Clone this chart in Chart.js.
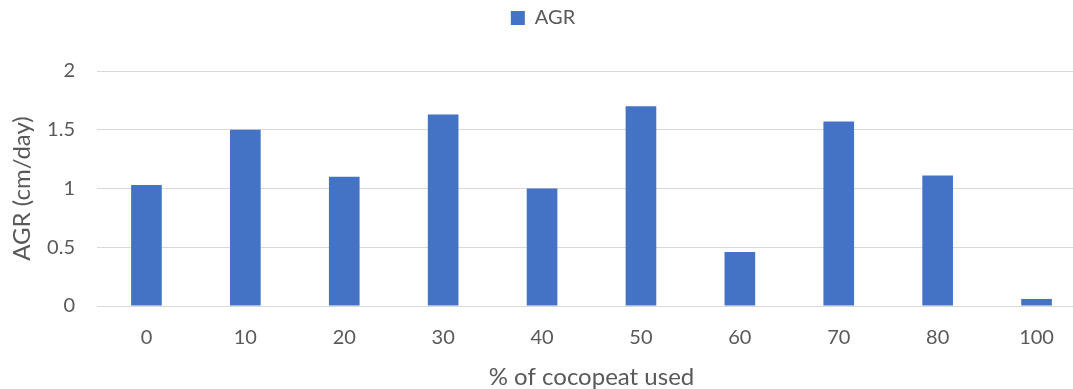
<!DOCTYPE html>
<html>
<head>
<meta charset="utf-8">
<script src="https://cdn.jsdelivr.net/npm/chart.js@4"></script>
<style>
  html, body { margin: 0; padding: 0; background: #ffffff; overflow: hidden; width: 1073px; height: 389px; }
  canvas { display: block; }
</style>
</head>
<body>
<canvas id="c" width="1090" height="389"></canvas>
<script>
const categories = ["0", "10", "20", "30", "40", "50", "60", "70", "80", "100"];
const agrValues = [1.03, 1.50, 1.10, 1.63, 1.00, 1.70, 0.46, 1.57, 1.11, 0.06];
const yTicks = [0, 0.5, 1, 1.5, 2];
const seriesName = "AGR";
const xTitle = "% of cocopeat used";
const yTitle = "AGR (cm/day)";

const textColor = "#595959";
const fontFamily = "Lato, 'Open Sans', 'Liberation Sans', sans-serif";

new Chart(document.getElementById("c"), {
  type: "bar",
  data: {
    labels: categories,
    datasets: [{
      label: seriesName,
      data: agrValues,
      backgroundColor: "#4472C4",
      borderWidth: 0,
      barPercentage: 0.31,
      categoryPercentage: 1.0
    }]
  },
  options: {
    responsive: false,
    animation: false,
    devicePixelRatio: 1,
    layout: { padding: { top: 0, left: 0, right: 4, bottom: 0 } },
    plugins: {
      legend: {
        display: true,
        position: "top",
        weight: 3000,
        labels: {
          boxWidth: 14,
          boxHeight: 14,
          padding: 8,
          color: textColor,
          font: { family: fontFamily, size: 20 }
        }
      },
      title: {
        display: true,
        text: "",
        font: { size: 10 },
        padding: { top: 0, bottom: 21 }
      },
      tooltip: { enabled: false }
    },
    scales: {
      x: {
        grid: { display: false, drawTicks: false },
        border: { display: false },
        ticks: {
          color: textColor,
          font: { family: fontFamily, size: 20 },
          padding: 20,
          maxRotation: 0
        },
        title: {
          display: true,
          text: xTitle,
          color: textColor,
          font: { family: fontFamily, size: 24, lineHeight: 1.0 },
          padding: { top: 0, bottom: 0 }
        },
        afterFit: s => { s.height = 83; }
      },
      y: {
        min: 0,
        max: 2,
        afterBuildTicks: s => { s.ticks = yTicks.map(v => ({ value: v })); },
        grid: { color: "#D9D9D9", lineWidth: 1, drawTicks: false },
        border: { display: false },
        ticks: {
          color: textColor,
          font: { family: fontFamily, size: 20 },
          padding: 22,
          callback: v => String(v)
        },
        title: {
          display: true,
          text: yTitle,
          color: textColor,
          font: { family: fontFamily, size: 24, lineHeight: 1.0 },
          padding: { top: 10, bottom: 0 }
        },
        afterFit: s => { s.width = 97; }
      }
    }
  }
});
</script>
</body>
</html>
